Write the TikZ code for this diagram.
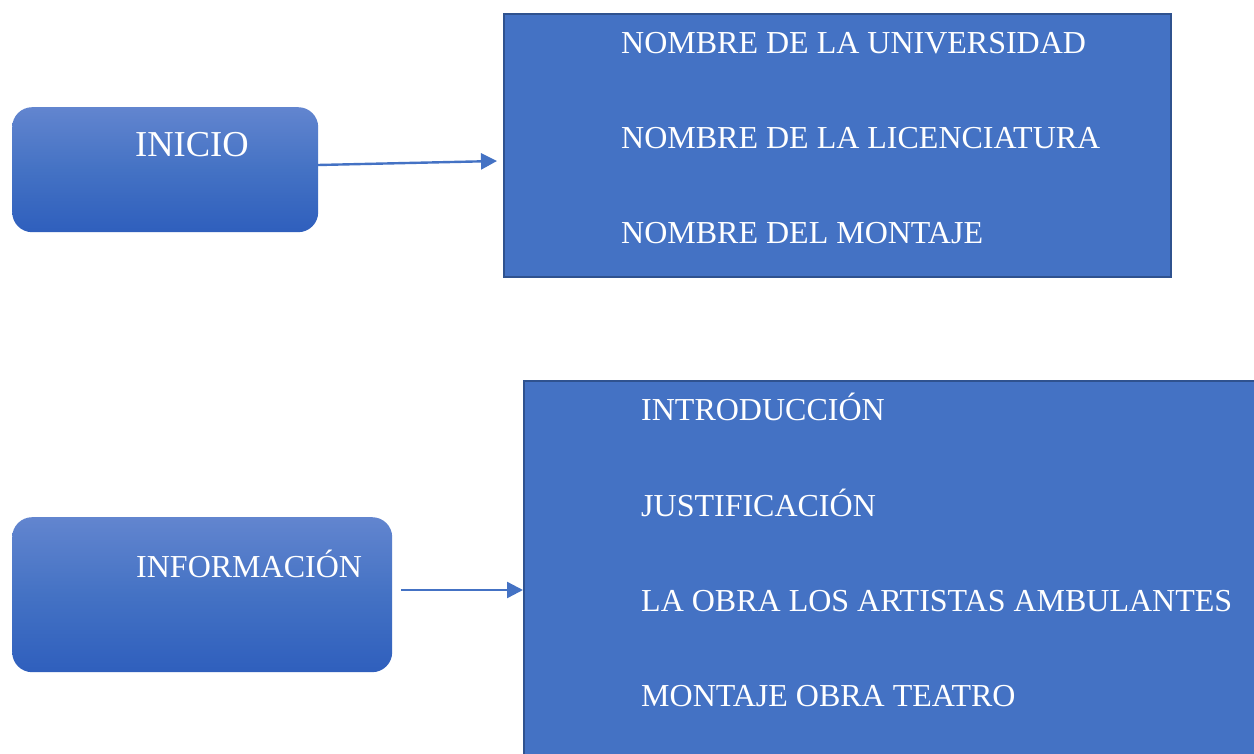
\documentclass[tikz,border=0pt]{standalone}
\usepackage{fontspec}
\setmainfont{Liberation Serif}
\usetikzlibrary{arrows.meta}
\definecolor{boxblue}{HTML}{4472C4}
\definecolor{boxedge}{HTML}{2F528F}
\definecolor{gradtop}{HTML}{6285CF}
\definecolor{gradbot}{HTML}{2F5FBD}
\tikzset{
  roundbox/.style={rounded corners=20pt, top color=gradtop, bottom color=gradbot, middle color=boxblue, draw=none, anchor=north west, inner sep=0pt},
  listbox/.style={fill=boxblue, draw=boxedge, line width=2pt, anchor=north west, inner sep=0pt},
  item/.style={anchor=base west, text=white, inner sep=0pt, font=\fontsize{32}{38}\selectfont},
  arr/.style={draw=boxblue, line width=2.4pt, -{Triangle[length=16pt,width=16pt]}}
}
\begin{document}
\begin{tikzpicture}[x=1pt,y=-1pt]
\useasboundingbox (0,0) rectangle (1254,754);
\clip (0,0) rectangle (1254,754);
\fill[white] (0,0) rectangle (1254,754);
% top group
\node[roundbox, minimum width=306pt, minimum height=125pt] (inicio) at (12,107) {};
\node[item, font=\fontsize{36.5}{42}\selectfont] (tinicio) at (135,157) {INICIO};
\node[listbox, minimum width=667pt, minimum height=263pt] (top) at (503,13) {};
\node[item] (t1) at (621,54) {NOMBRE DE LA UNIVERSIDAD};
\node[item] (t2) at (621,149) {NOMBRE DE LA LICENCIATURA};
\node[item] (t3) at (621,244) {NOMBRE DEL MONTAJE};
\coordinate (a1s) at (318,165);
\coordinate (a1e) at (497,161);
\draw[arr] (a1s) -- (a1e);
% bottom group
\node[roundbox, minimum width=380pt, minimum height=155pt] (info) at (12,517) {};
\node[item] (tinfo) at (136,577) {INFORMACIÓN};
\node[listbox, minimum width=740pt, minimum height=400pt] (bot) at (523,380) {};
\node[item] (b1) at (641,420) {INTRODUCCIÓN};
\node[item] (b2) at (641,516) {JUSTIFICACIÓN};
\node[item] (b3) at (641,611) {LA OBRA LOS ARTISTAS AMBULANTES};
\node[item] (b4) at (641,706) {MONTAJE OBRA TEATRO};
\coordinate (a2s) at (401,590);
\coordinate (a2e) at (523,590);
\draw[arr] (a2s) -- (a2e);
\end{tikzpicture}
\end{document}
